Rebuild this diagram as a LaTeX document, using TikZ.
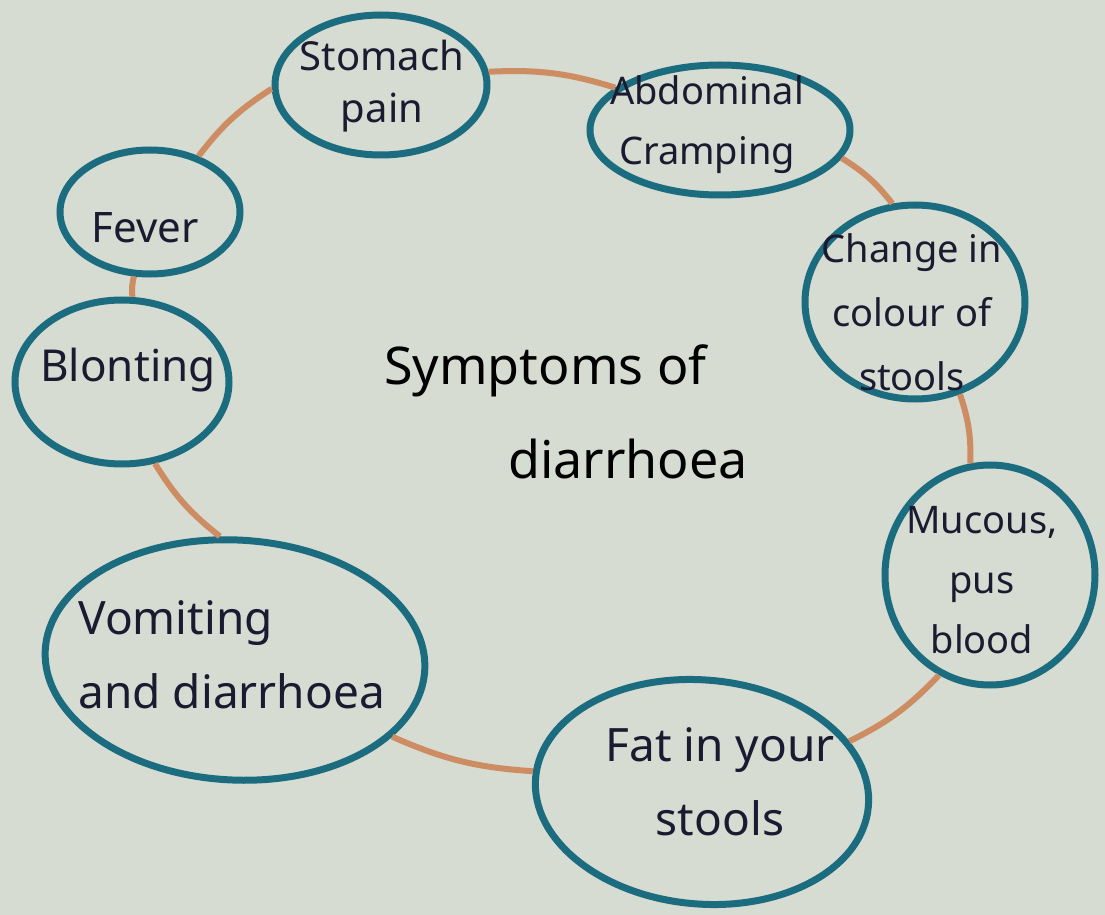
\documentclass[tikz,border=0pt]{standalone}
\usepackage{fontspec}
\setmainfont{Noto Sans}
\usetikzlibrary{shapes.geometric}
\definecolor{bg}{RGB}{214,220,210}
\definecolor{ring}{RGB}{28,108,128}
\definecolor{link}{RGB}{205,140,98}
\definecolor{ink}{RGB}{28,26,48}
\tikzset{
  bubble/.style={draw=ring, line width=3.5pt, ellipse, inner sep=0pt},
  lbl/.style={text=ink, align=center, inner sep=0pt},
  conn/.style={draw=link, line width=3pt, bend left=10},
}
\newcommand{\fs}[2]{\fontsize{#1}{#2}\selectfont}
\begin{document}
\begin{tikzpicture}[x=0.5pt,y=0.5pt]
\fill[bg] (0,-915) rectangle (1105,0);
\useasboundingbox (0,-915) rectangle (1105,0);
% bubbles
\node[bubble, minimum width=106pt, minimum height=70pt] (stomach) at (381,-85) {};
\node[bubble, minimum width=130pt, minimum height=65pt] (abdominal) at (720,-130) {};
\node[bubble, minimum width=110pt, minimum height=97pt] (change) at (915,-302) {};
\node[bubble, minimum width=105pt, minimum height=110pt] (mucous) at (990,-575) {};
\node[bubble, minimum width=167pt, minimum height=112pt, rotate=-5] (fat) at (702,-792) {};
\node[bubble, minimum width=190pt, minimum height=120pt, rotate=-3] (vomiting) at (235,-660) {};
\node[bubble, minimum width=107pt, minimum height=82pt] (bloating) at (122,-382) {};
\node[bubble, minimum width=90pt, minimum height=62pt] (fever) at (150,-212) {};
% labels
\node[lbl, font=\fs{20}{26}] (tstomach) at (382,-86) {Stomach\\pain};
\node[lbl, font=\fs{19}{30}] (tabdominal) at (707,-125) {Abdominal\\Cramping};
\node[lbl, font=\fs{19}{32}] (tchange) at (912,-312) {Change in\\colour of\\stools};
\node[lbl, font=\fs{19}{30}] (tmucous) at (982,-580) {Mucous,\\pus\\blood};
\node[lbl, font=\fs{23}{37}] (tfat) at (720,-782) {Fat in your\\stools};
\node[lbl, font=\fs{23}{37}, align=left, anchor=west] (tvomiting) at (78,-655) {Vomiting\\and diarrhoea};
\node[lbl, font=\fs{22}{26}] (tbloating) at (128,-370) {Blonting};
\node[lbl, font=\fs{21}{26}] (tfever) at (145,-228) {Fever};
\node[lbl, text=black, font=\fs{26}{47}\bfseries, align=left] (title) at (566,-412) {Symptoms of\\\hspace*{62pt}diarrhoea};
% connectors
\draw[conn] (stomach.7) to (abdominal.158);
\draw[conn] (abdominal.-13) to (change.103);
\draw[conn] (change.-64) to (mucous.100);
\draw[conn] (mucous.-117) to (fat.24);
\draw[conn] (fat.178) to (vomiting.-23);
\draw[conn] (vomiting.100) to (bloating.-68);
\draw[conn] (bloating.83) to (fever.-104);
\draw[conn] (fever.49) to (stomach.182);
\end{tikzpicture}
\end{document}
